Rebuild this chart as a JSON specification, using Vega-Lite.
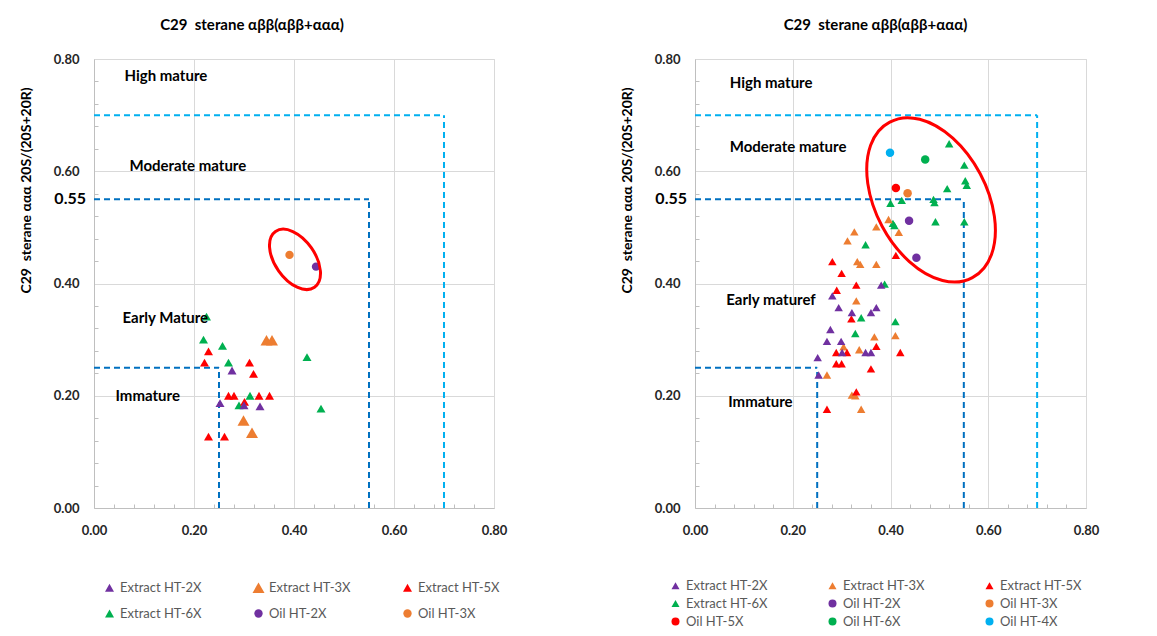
{
  "$schema": "https://vega.github.io/schema/vega-lite/v6.json",
  "background": "white",
  "padding": {"left": 18, "top": 17, "right": 5, "bottom": 5},
  "spacing": 111,
  "config": {
    "font": "Lato",
    "view": {"stroke": "#d9d9d9", "strokeWidth": 1},
    "title": {"font": "Lato", "fontSize": 15, "fontWeight": "bold", "color": "#000000", "anchor": "middle", "frame": "group"},
    "legend": {"orient": "none", "direction": "horizontal", "columns": 3, "gridAlign": "all", "title": null, "labelFont": "Lato", "labelFontSize": 13, "labelColor": "#595959", "labelOffset": 4, "padding": 0, "symbolStrokeWidth": 0, "symbolOpacity": 1},
    "text": {"font": "Lato"}
  },
  "datasets": {
    "lines": [
      {"x": 0, "x2": 0.25, "y": 0.25, "y2": 0.25, "level": "0.25"},
      {"x": 0.25, "x2": 0.25, "y": 0, "y2": 0.25, "level": "0.25"},
      {"x": 0, "x2": 0.55, "y": 0.55, "y2": 0.55, "level": "0.55"},
      {"x": 0.55, "x2": 0.55, "y": 0, "y2": 0.55, "level": "0.55"},
      {"x": 0, "x2": 0.7, "y": 0.7, "y2": 0.7, "level": "0.70"},
      {"x": 0.7, "x2": 0.7, "y": 0, "y2": 0.7, "level": "0.70"}
    ],
    "left_pts": [
      {"series": "Extract HT-6X", "x": 0.219, "y": 0.300},
      {"series": "Extract HT-6X", "x": 0.257, "y": 0.289},
      {"series": "Extract HT-6X", "x": 0.269, "y": 0.259},
      {"series": "Extract HT-6X", "x": 0.312, "y": 0.200},
      {"series": "Extract HT-6X", "x": 0.290, "y": 0.183},
      {"series": "Extract HT-6X", "x": 0.426, "y": 0.269},
      {"series": "Extract HT-6X", "x": 0.454, "y": 0.177},
      {"series": "Extract HT-6X", "x": 0.225, "y": 0.341},
      {"series": "Extract HT-5X", "x": 0.229, "y": 0.279},
      {"series": "Extract HT-5X", "x": 0.221, "y": 0.259},
      {"series": "Extract HT-5X", "x": 0.311, "y": 0.259},
      {"series": "Extract HT-5X", "x": 0.319, "y": 0.239},
      {"series": "Extract HT-5X", "x": 0.269, "y": 0.200},
      {"series": "Extract HT-5X", "x": 0.280, "y": 0.200},
      {"series": "Extract HT-5X", "x": 0.330, "y": 0.200},
      {"series": "Extract HT-5X", "x": 0.351, "y": 0.200},
      {"series": "Extract HT-5X", "x": 0.301, "y": 0.189},
      {"series": "Extract HT-5X", "x": 0.229, "y": 0.127},
      {"series": "Extract HT-5X", "x": 0.261, "y": 0.127},
      {"series": "Extract HT-2X", "x": 0.276, "y": 0.245},
      {"series": "Extract HT-2X", "x": 0.252, "y": 0.187},
      {"series": "Extract HT-2X", "x": 0.300, "y": 0.183},
      {"series": "Extract HT-2X", "x": 0.332, "y": 0.181},
      {"series": "Extract HT-3X", "x": 0.345, "y": 0.299},
      {"series": "Extract HT-3X", "x": 0.356, "y": 0.299},
      {"series": "Extract HT-3X", "x": 0.299, "y": 0.156},
      {"series": "Extract HT-3X", "x": 0.316, "y": 0.134},
      {"series": "Oil HT-3X", "x": 0.391, "y": 0.451},
      {"series": "Oil HT-2X", "x": 0.444, "y": 0.430}
    ],
    "right_pts": [
      {"series": "Oil HT-4X", "x": 0.399, "y": 0.633},
      {"series": "Oil HT-6X", "x": 0.471, "y": 0.621},
      {"series": "Oil HT-5X", "x": 0.411, "y": 0.570},
      {"series": "Oil HT-3X", "x": 0.435, "y": 0.561},
      {"series": "Oil HT-2X", "x": 0.438, "y": 0.512},
      {"series": "Oil HT-2X", "x": 0.453, "y": 0.446},
      {"series": "Extract HT-6X", "x": 0.520, "y": 0.649},
      {"series": "Extract HT-6X", "x": 0.551, "y": 0.611},
      {"series": "Extract HT-6X", "x": 0.553, "y": 0.583},
      {"series": "Extract HT-6X", "x": 0.556, "y": 0.575},
      {"series": "Extract HT-6X", "x": 0.516, "y": 0.569},
      {"series": "Extract HT-6X", "x": 0.488, "y": 0.550},
      {"series": "Extract HT-6X", "x": 0.490, "y": 0.544},
      {"series": "Extract HT-6X", "x": 0.423, "y": 0.548},
      {"series": "Extract HT-6X", "x": 0.400, "y": 0.543},
      {"series": "Extract HT-6X", "x": 0.405, "y": 0.507},
      {"series": "Extract HT-6X", "x": 0.408, "y": 0.503},
      {"series": "Extract HT-6X", "x": 0.492, "y": 0.510},
      {"series": "Extract HT-6X", "x": 0.551, "y": 0.510},
      {"series": "Extract HT-6X", "x": 0.349, "y": 0.469},
      {"series": "Extract HT-6X", "x": 0.388, "y": 0.399},
      {"series": "Extract HT-6X", "x": 0.340, "y": 0.339},
      {"series": "Extract HT-6X", "x": 0.410, "y": 0.332},
      {"series": "Extract HT-6X", "x": 0.328, "y": 0.311},
      {"series": "Extract HT-3X", "x": 0.396, "y": 0.514},
      {"series": "Extract HT-3X", "x": 0.371, "y": 0.501},
      {"series": "Extract HT-3X", "x": 0.326, "y": 0.492},
      {"series": "Extract HT-3X", "x": 0.417, "y": 0.491},
      {"series": "Extract HT-3X", "x": 0.312, "y": 0.476},
      {"series": "Extract HT-3X", "x": 0.332, "y": 0.439},
      {"series": "Extract HT-3X", "x": 0.338, "y": 0.434},
      {"series": "Extract HT-3X", "x": 0.371, "y": 0.434},
      {"series": "Extract HT-3X", "x": 0.330, "y": 0.369},
      {"series": "Extract HT-3X", "x": 0.367, "y": 0.305},
      {"series": "Extract HT-3X", "x": 0.410, "y": 0.307},
      {"series": "Extract HT-3X", "x": 0.304, "y": 0.287},
      {"series": "Extract HT-3X", "x": 0.336, "y": 0.282},
      {"series": "Extract HT-3X", "x": 0.270, "y": 0.237},
      {"series": "Extract HT-3X", "x": 0.321, "y": 0.201},
      {"series": "Extract HT-3X", "x": 0.328, "y": 0.200},
      {"series": "Extract HT-3X", "x": 0.340, "y": 0.176},
      {"series": "Extract HT-5X", "x": 0.411, "y": 0.450},
      {"series": "Extract HT-5X", "x": 0.281, "y": 0.439},
      {"series": "Extract HT-5X", "x": 0.300, "y": 0.418},
      {"series": "Extract HT-5X", "x": 0.330, "y": 0.397},
      {"series": "Extract HT-5X", "x": 0.290, "y": 0.388},
      {"series": "Extract HT-5X", "x": 0.320, "y": 0.337},
      {"series": "Extract HT-5X", "x": 0.289, "y": 0.277},
      {"series": "Extract HT-5X", "x": 0.311, "y": 0.277},
      {"series": "Extract HT-5X", "x": 0.371, "y": 0.288},
      {"series": "Extract HT-5X", "x": 0.420, "y": 0.277},
      {"series": "Extract HT-5X", "x": 0.289, "y": 0.257},
      {"series": "Extract HT-5X", "x": 0.300, "y": 0.257},
      {"series": "Extract HT-5X", "x": 0.360, "y": 0.248},
      {"series": "Extract HT-5X", "x": 0.330, "y": 0.207},
      {"series": "Extract HT-5X", "x": 0.270, "y": 0.176},
      {"series": "Extract HT-2X", "x": 0.381, "y": 0.397},
      {"series": "Extract HT-2X", "x": 0.281, "y": 0.378},
      {"series": "Extract HT-2X", "x": 0.294, "y": 0.357},
      {"series": "Extract HT-2X", "x": 0.321, "y": 0.348},
      {"series": "Extract HT-2X", "x": 0.360, "y": 0.348},
      {"series": "Extract HT-2X", "x": 0.371, "y": 0.357},
      {"series": "Extract HT-2X", "x": 0.277, "y": 0.318},
      {"series": "Extract HT-2X", "x": 0.270, "y": 0.297},
      {"series": "Extract HT-2X", "x": 0.299, "y": 0.297},
      {"series": "Extract HT-2X", "x": 0.301, "y": 0.277},
      {"series": "Extract HT-2X", "x": 0.349, "y": 0.277},
      {"series": "Extract HT-2X", "x": 0.360, "y": 0.277},
      {"series": "Extract HT-2X", "x": 0.251, "y": 0.268},
      {"series": "Extract HT-2X", "x": 0.253, "y": 0.237}
    ],
    "left_text": [
      {"label": "High mature", "x": 0.061, "y": 0.770},
      {"label": "Moderate mature", "x": 0.071, "y": 0.609},
      {"label": "Early Mature", "x": 0.057, "y": 0.339},
      {"label": "Immature", "x": 0.043, "y": 0.200}
    ],
    "right_text": [
      {"label": "High mature", "x": 0.071, "y": 0.757},
      {"label": "Moderate mature", "x": 0.071, "y": 0.643},
      {"label": "Early maturef", "x": 0.064, "y": 0.370},
      {"label": "Immature", "x": 0.068, "y": 0.188}
    ],
    "mark055": [{"label": "0.55", "x": 0, "y": 0.55}],
    "left_ellipse": [{"x": 0.402, "y": 0.443}],
    "right_ellipse": [{"x": 0.483, "y": 0.549}]
  },
  "resolve": {
    "scale": {"color": "independent", "shape": "independent", "size": "independent", "stroke": "independent"},
    "legend": {"color": "independent", "shape": "independent", "size": "independent"}
  },
  "hconcat": [
    {
      "width": 400,
      "height": 449,
      "title": {"text": "C29\u00a0 sterane αββ(αββ+ααα)", "dx": -42, "offset": 20},
      "resolve": {"axis": {"x": "independent", "y": "independent"}},
      "layer": [
        {
          "data": {"name": "lines"},
          "mark": {"type": "rule", "strokeDash": [6, 4], "strokeWidth": 2},
          "encoding": {
            "x": {"field": "x", "type": "quantitative",
              "scale": {"domain": [0, 0.8], "nice": false, "zero": false},
              "axis": {"orient": "bottom", "title": null, "values": [0, 0.2, 0.4, 0.6, 0.8], "format": ".2f",
                "labelOverlap": false, "labelFlush": false, "labelBound": false, "grid": true,
                "gridColor": "#d9d9d9", "domainColor": "#bfbfbf", "ticks": false, "labelPadding": 16,
                "labelFont": "Lato", "labelFontSize": 13, "labelFontWeight": "bold", "labelColor": "#262626"}},
            "x2": {"field": "x2"},
            "y": {"field": "y", "type": "quantitative",
              "scale": {"domain": [0, 0.8], "nice": false, "zero": false},
              "axis": {"orient": "left", "title": "C29\u00a0 sterane ααα 20S/(20S+20R)", "values": [0, 0.2, 0.4, 0.6, 0.8], "format": ".2f",
                "labelOverlap": false, "labelFlush": false, "labelBound": false, "grid": true,
                "gridColor": "#d9d9d9", "domainColor": "#bfbfbf", "ticks": false, "labelPadding": 15,
                "labelFont": "Lato", "labelFontSize": 13, "labelFontWeight": "bold", "labelColor": "#262626",
                "titleFont": "Lato", "titleFontSize": 14, "titleFontWeight": "bold", "titleColor": "#000000",
                "titlePadding": 20, "titleY": 131}},
            "y2": {"field": "y2"},
            "stroke": {"field": "level", "type": "nominal", "scale": {"domain": ["0.25", "0.55", "0.70"], "range": ["#0070C0", "#0070C0", "#00B0F0"]}, "legend": null}
          }
        },
        {
          "data": {"name": "left_pts"},
          "mark": {"type": "point", "filled": true, "opacity": 1, "strokeWidth": 0},
          "encoding": {
            "x": {"field": "x", "type": "quantitative",
              "axis": {"orient": "bottom", "title": null, "values": [0.04,0.08,0.12,0.16,0.24,0.28,0.32,0.36,0.44,0.48,0.52,0.56,0.64,0.68,0.72,0.76],
                "labels": false, "grid": false, "domain": false, "ticks": true, "tickSize": -4, "tickColor": "#bfbfbf"}},
            "y": {"field": "y", "type": "quantitative",
              "axis": {"orient": "left", "title": null, "values": [0.04,0.08,0.12,0.16,0.24,0.28,0.32,0.36,0.44,0.48,0.52,0.56,0.64,0.68,0.72,0.76],
                "labels": false, "grid": false, "domain": false, "ticks": true, "tickSize": -4, "tickColor": "#bfbfbf"}},
            "color": {"field": "series", "type": "nominal",
              "scale": {"domain": ["Extract HT-2X", "Extract HT-3X", "Extract HT-5X", "Extract HT-6X", "Oil HT-2X", "Oil HT-3X"],
                "range": ["#7030A0", "#ED7D31", "#FF0000", "#00B050", "#7030A0", "#ED7D31"]},
              "legend": {"legendX": 9, "legendY": 522, "columnPadding": 50, "rowPadding": 12}},
            "shape": {"field": "series", "type": "nominal",
              "scale": {"domain": ["Extract HT-2X", "Extract HT-3X", "Extract HT-5X", "Extract HT-6X", "Oil HT-2X", "Oil HT-3X"],
                "range": ["triangle-up", "triangle-up", "triangle-up", "triangle-up", "circle", "circle"]}},
            "size": {"field": "series", "type": "nominal",
              "scale": {"type": "ordinal", "domain": ["Extract HT-2X", "Extract HT-3X", "Extract HT-5X", "Extract HT-6X", "Oil HT-2X", "Oil HT-3X"],
                "range": [81, 144, 81, 81, 70, 70]}}
          }
        },
        {
          "data": {"name": "left_text"},
          "mark": {"type": "text", "align": "left", "baseline": "middle", "fontSize": 15, "fontWeight": "bold", "color": "#000000"},
          "encoding": {
            "x": {"field": "x", "type": "quantitative", "axis": null},
            "y": {"field": "y", "type": "quantitative", "axis": null},
            "text": {"field": "label"}
          }
        },
        {
          "data": {"name": "mark055"},
          "mark": {"type": "text", "align": "right", "baseline": "middle", "fontSize": 16, "fontWeight": "bold", "color": "#000000", "dx": -8},
          "encoding": {
            "x": {"field": "x", "type": "quantitative", "axis": null},
            "y": {"field": "y", "type": "quantitative", "axis": null},
            "text": {"field": "label"}
          }
        },
        {
          "data": {"name": "left_ellipse"},
          "mark": {"type": "point", "filled": false, "opacity": 1, "size": 4, "stroke": "#FF0000", "strokeWidth": 3,
            "shape": "M -19.5 -27.9 A 34 20 55 1 1 19.5 27.9 A 34 20 55 1 1 -19.5 -27.9 Z"},
          "encoding": {
            "x": {"field": "x", "type": "quantitative", "axis": null},
            "y": {"field": "y", "type": "quantitative", "axis": null}
          }
        }
      ]
    },
    {
      "width": 391,
      "height": 449,
      "title": {"text": "C29\u00a0 sterane αββ(αββ+ααα)", "dx": -15, "offset": 20},
      "resolve": {"axis": {"x": "independent", "y": "independent"}},
      "layer": [
        {
          "data": {"name": "lines"},
          "mark": {"type": "rule", "strokeDash": [6, 4], "strokeWidth": 2},
          "encoding": {
            "x": {"field": "x", "type": "quantitative",
              "scale": {"domain": [0, 0.8], "nice": false, "zero": false},
              "axis": {"orient": "bottom", "title": null, "values": [0, 0.2, 0.4, 0.6, 0.8], "format": ".2f",
                "labelOverlap": false, "labelFlush": false, "labelBound": false, "grid": true,
                "gridColor": "#d9d9d9", "domainColor": "#bfbfbf", "ticks": false, "labelPadding": 16,
                "labelFont": "Lato", "labelFontSize": 13, "labelFontWeight": "bold", "labelColor": "#262626"}},
            "x2": {"field": "x2"},
            "y": {"field": "y", "type": "quantitative",
              "scale": {"domain": [0, 0.8], "nice": false, "zero": false},
              "axis": {"orient": "left", "title": "C29\u00a0 sterane ααα 20S/(20S+20R)", "values": [0, 0.2, 0.4, 0.6, 0.8], "format": ".2f",
                "labelOverlap": false, "labelFlush": false, "labelBound": false, "grid": true,
                "gridColor": "#d9d9d9", "domainColor": "#bfbfbf", "ticks": false, "labelPadding": 15,
                "labelFont": "Lato", "labelFontSize": 13, "labelFontWeight": "bold", "labelColor": "#262626",
                "titleFont": "Lato", "titleFontSize": 14, "titleFontWeight": "bold", "titleColor": "#000000",
                "titlePadding": 20, "titleY": 131}},
            "y2": {"field": "y2"},
            "stroke": {"field": "level", "type": "nominal", "scale": {"domain": ["0.25", "0.55", "0.70"], "range": ["#0070C0", "#0070C0", "#00B0F0"]}, "legend": null}
          }
        },
        {
          "data": {"name": "right_pts"},
          "mark": {"type": "point", "filled": true, "opacity": 1, "strokeWidth": 0, "size": 72},
          "encoding": {
            "x": {"field": "x", "type": "quantitative",
              "axis": {"orient": "bottom", "title": null, "values": [0.04,0.08,0.12,0.16,0.24,0.28,0.32,0.36,0.44,0.48,0.52,0.56,0.64,0.68,0.72,0.76],
                "labels": false, "grid": false, "domain": false, "ticks": true, "tickSize": -4, "tickColor": "#bfbfbf"}},
            "y": {"field": "y", "type": "quantitative",
              "axis": {"orient": "left", "title": null, "values": [0.04,0.08,0.12,0.16,0.24,0.28,0.32,0.36,0.44,0.48,0.52,0.56,0.64,0.68,0.72,0.76],
                "labels": false, "grid": false, "domain": false, "ticks": true, "tickSize": -4, "tickColor": "#bfbfbf"}},
            "color": {"field": "series", "type": "nominal",
              "scale": {"domain": ["Extract HT-2X", "Extract HT-3X", "Extract HT-5X", "Extract HT-6X", "Oil HT-2X", "Oil HT-3X", "Oil HT-5X", "Oil HT-6X", "Oil HT-4X"],
                "range": ["#7030A0", "#ED7D31", "#FF0000", "#00B050", "#7030A0", "#ED7D31", "#FF0000", "#00B050", "#00B0F0"]},
              "legend": {"legendX": -26, "legendY": 520, "columnPadding": 58, "rowPadding": 4, "symbolSize": 64}},
            "shape": {"field": "series", "type": "nominal",
              "scale": {"domain": ["Extract HT-2X", "Extract HT-3X", "Extract HT-5X", "Extract HT-6X", "Oil HT-2X", "Oil HT-3X", "Oil HT-5X", "Oil HT-6X", "Oil HT-4X"],
                "range": ["triangle-up", "triangle-up", "triangle-up", "triangle-up", "circle", "circle", "circle", "circle", "circle"]}}
          }
        },
        {
          "data": {"name": "right_text"},
          "mark": {"type": "text", "align": "left", "baseline": "middle", "fontSize": 15, "fontWeight": "bold", "color": "#000000"},
          "encoding": {
            "x": {"field": "x", "type": "quantitative", "axis": null},
            "y": {"field": "y", "type": "quantitative", "axis": null},
            "text": {"field": "label"}
          }
        },
        {
          "data": {"name": "mark055"},
          "mark": {"type": "text", "align": "right", "baseline": "middle", "fontSize": 16, "fontWeight": "bold", "color": "#000000", "dx": -8},
          "encoding": {
            "x": {"field": "x", "type": "quantitative", "axis": null},
            "y": {"field": "y", "type": "quantitative", "axis": null},
            "text": {"field": "label"}
          }
        },
        {
          "data": {"name": "right_ellipse"},
          "mark": {"type": "point", "filled": false, "opacity": 1, "size": 4, "stroke": "#FF0000", "strokeWidth": 3,
            "shape": "M -41.3 -77.7 A 88 55 62 1 1 41.3 77.7 A 88 55 62 1 1 -41.3 -77.7 Z"},
          "encoding": {
            "x": {"field": "x", "type": "quantitative", "axis": null},
            "y": {"field": "y", "type": "quantitative", "axis": null}
          }
        }
      ]
    }
  ]
}
